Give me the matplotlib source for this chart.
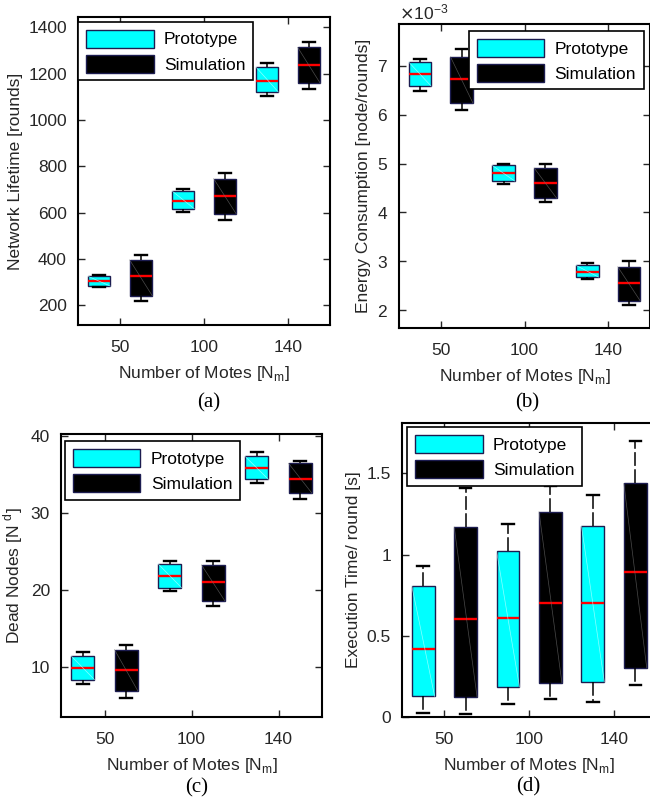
import matplotlib
matplotlib.use('Agg')
import matplotlib.pyplot as plt
from matplotlib.patches import Patch

plt.rcParams['font.family'] = ['Liberation Sans', 'DejaVu Sans']
plt.rcParams['font.size'] = 12.5
plt.rcParams['axes.labelcolor'] = '#262626'
plt.rcParams['xtick.color'] = '#262626'
plt.rcParams['ytick.color'] = '#262626'

# ---- data: five-number summaries per mote count (whislo, q1, med, q3, whishi) ----
motes = ['50', '100', '140']

lifetime_proto = [[277, 283, 303, 326, 329], [605, 617, 652, 695, 704], [1106, 1121, 1169, 1230, 1248]]
lifetime_sim = [[217, 241, 325, 396, 419], [569, 594, 670, 747, 771], [1134, 1158, 1238, 1314, 1337]]

energy_proto = [[6.49e-3, 6.58e-3, 6.83e-3, 7.075e-3, 7.14e-3], [4.59e-3, 4.64e-3, 4.81e-3, 4.96e-3, 5.0e-3],
                [2.64e-3, 2.68e-3, 2.78e-3, 2.92e-3, 2.97e-3]]
energy_sim = [[6.10e-3, 6.23e-3, 6.72e-3, 7.18e-3, 7.34e-3], [4.21e-3, 4.29e-3, 4.61e-3, 4.91e-3, 5.0e-3],
              [2.10e-3, 2.19e-3, 2.55e-3, 2.89e-3, 3.0e-3]]

dead_proto = [[7.9, 8.4, 9.9, 11.5, 11.95], [19.95, 20.35, 21.9, 23.45, 23.85], [33.9, 34.4, 35.85, 37.4, 37.9]]
dead_sim = [[5.97, 6.9, 9.6, 12.3, 12.95], [17.9, 18.6, 21.05, 23.3, 23.85], [31.85, 32.6, 34.4, 36.5, 36.85]]

exec_proto = [[0.025, 0.127, 0.417, 0.808, 0.931], [0.078, 0.185, 0.61, 1.021, 1.188], [0.09, 0.216, 0.703, 1.177, 1.366]]
exec_sim = [[0.016, 0.123, 0.602, 1.171, 1.408], [0.111, 0.21, 0.703, 1.264, 1.42], [0.195, 0.302, 0.89, 1.438, 1.701]]

CYAN = '#00FFFF'
EDGE = '#1c1c50'
BOXW = 0.54


def to_stats(rows):
    return [dict(whislo=r[0], q1=r[1], med=r[2], q3=r[3], whishi=r[4], fliers=[]) for r in rows]


def draw_panel(ax, proto, sim, ylabel, ylim, yticks, legend_xy):
    pos_p = [1, 3, 5]
    pos_s = [2, 4, 6]
    for rows, pos, fc, diag in [(proto, pos_p, CYAN, '#c8ffff'), (sim, pos_s, 'black', '#6a6a6a')]:
        ax.bxp(to_stats(rows), positions=pos, widths=BOXW, capwidths=BOXW / 2, patch_artist=True,
               showfliers=False,
               boxprops=dict(facecolor=fc, edgecolor=EDGE, linewidth=1.0),
               medianprops=dict(color='red', linewidth=1.7),
               whiskerprops=dict(color='black', linewidth=1.1, dashes=(9, 2.2)),
               capprops=dict(color='black', linewidth=1.7),
               manage_ticks=False, zorder=3)
        # faint diagonal inside each box (render artefact in the original)
        for r, p in zip(rows, pos):
            ax.plot([p - BOXW / 2, p + BOXW / 2], [r[3], r[1]], color=diag, lw=0.5, alpha=0.7, zorder=3.5)

    ax.set_xlim(0.5, 6.5)
    ax.set_xticks([1.5, 3.5, 5.5])
    ax.set_xticklabels(motes)
    ax.set_ylim(*ylim)
    if yticks is not None:
        ax.set_yticks(yticks)
    ax.set_xlabel(r'Number of Motes [N$_{\mathregular{m}}$]', labelpad=6)
    ax.set_ylabel(ylabel)
    ax.tick_params(direction='in', length=5, width=1.0, top=True, right=True, labelsize=12.5)
    ax.tick_params(axis='x', pad=11)
    ax.tick_params(axis='y', pad=8)
    for s in ax.spines.values():
        s.set_linewidth(1.5)

    handles = [Patch(facecolor=CYAN, edgecolor=EDGE, label='Prototype'),
               Patch(facecolor='black', edgecolor=EDGE, label='Simulation')]
    loc, xy = legend_xy
    leg = ax.legend(handles=handles, loc=loc, bbox_to_anchor=xy, borderaxespad=0,
                    fancybox=False, framealpha=1, edgecolor='black', fontsize=12.5,
                    handlelength=3.9, handleheight=1.2, labelspacing=0.42, handletextpad=0.6,
                    borderpad=0.45)
    leg.get_frame().set_linewidth(1.2)
    leg.set_zorder(5)


fig = plt.figure(figsize=(6.5, 8.05), dpi=100)
W, H = 650.0, 805.0


def add_axes(l, r, t, b):
    return fig.add_axes([l / W, 1 - b / H, (r - l) / W, (b - t) / H])


ax_a = add_axes(78, 330, 17, 325)
ax_b = add_axes(399, 650, 24, 328)
ax_c = add_axes(61, 322, 434, 717)
ax_d = add_axes(402, 656.5, 423, 717)

draw_panel(ax_a, lifetime_proto, lifetime_sim, 'Network Lifetime [rounds]', (115, 1445),
           [200, 400, 600, 800, 1000, 1200, 1400], ('upper left', (0, 0.984)))
draw_panel(ax_b, energy_proto, energy_sim, 'Energy Consumption [node/rounds]', (1.64e-3, 7.85e-3),
           [2e-3, 3e-3, 4e-3, 5e-3, 6e-3, 7e-3], ('upper right', (0.976, 0.977)))
draw_panel(ax_c, dead_proto, dead_sim, r'Dead Nodes [N $^{\mathregular{d}}$]', (3.55, 40.3),
           [10, 20, 30, 40], ('upper left', (0.015, 0.975)))
draw_panel(ax_d, exec_proto, exec_sim, 'Execution Time/ round [s]', (0, 1.81),
           [0, 0.5, 1, 1.5], ('upper left', (0.02, 0.986)))

ax_b.ticklabel_format(axis='y', style='sci', scilimits=(-3, -3), useMathText=True)
ax_b.yaxis.get_offset_text().set_fontsize(12.5)
ax_d.set_yticklabels(['0', '0.5', '1', '1.5'])

for txt, x, y in [('(a)', 209, 403), ('(b)', 527, 403), ('(c)', 197, 788), ('(d)', 528, 787)]:
    fig.text(x / W, 1 - y / H, txt, ha='center', va='center', fontsize=15,
             family=['Liberation Serif', 'DejaVu Serif'], color='black')

fig.savefig('out.png', dpi=100)
